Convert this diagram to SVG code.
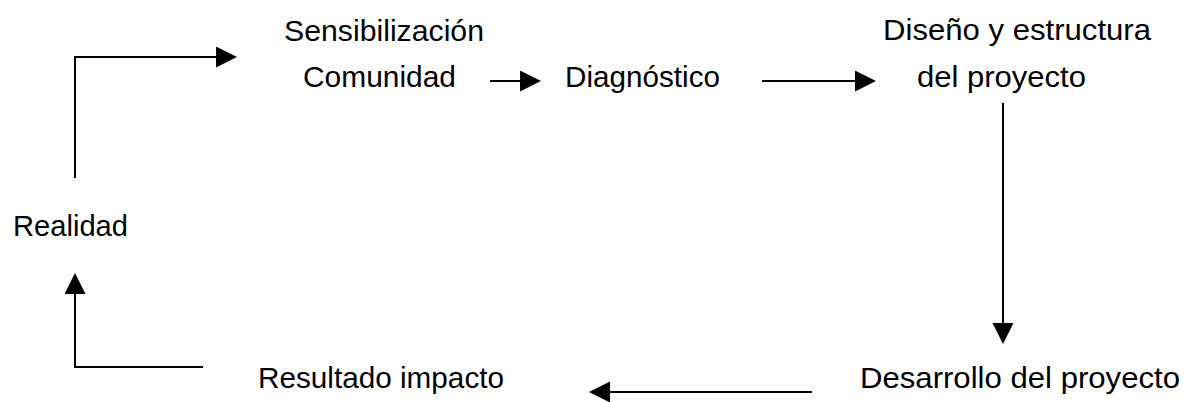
<svg xmlns="http://www.w3.org/2000/svg" width="1191" height="402" viewBox="0 0 1191 402">
  <style>
    .lbl { font-family: "Liberation Sans", Arial, sans-serif; font-size: 30px; fill: #000; }
    .conn { fill: none; stroke: #000; stroke-width: 2; }
  </style>
  <defs>
    <marker id="head" markerUnits="userSpaceOnUse" markerWidth="22" markerHeight="22" refX="0" refY="10.5" orient="auto">
      <polygon points="0,0 21,10.5 0,21" fill="#000"/>
    </marker>
  </defs>
  <rect width="1191" height="402" fill="#fff"/>
  <g id="connectors">
    <path class="conn" d="M75,178 V57 H216" marker-end="url(#head)"/>
    <path class="conn" d="M490,81 H520" marker-end="url(#head)"/>
    <path class="conn" d="M762,81 H855" marker-end="url(#head)"/>
    <path class="conn" d="M1003,103 V323" marker-end="url(#head)"/>
    <path class="conn" d="M812,392 H610" marker-end="url(#head)"/>
    <path class="conn" d="M203,367 H75 V294" marker-end="url(#head)"/>
  </g>
  <g id="node-sensibilizacion">
    <text class="lbl" x="284" y="41" textLength="200" lengthAdjust="spacingAndGlyphs">Sensibilización</text>
    <text class="lbl" x="303" y="87" textLength="153" lengthAdjust="spacingAndGlyphs">Comunidad</text>
  </g>
  <g id="node-diagnostico">
    <text class="lbl" x="565" y="87" textLength="155" lengthAdjust="spacingAndGlyphs">Diagnóstico</text>
  </g>
  <g id="node-diseno">
    <text class="lbl" x="883" y="40" textLength="268" lengthAdjust="spacingAndGlyphs">Diseño y estructura</text>
    <text class="lbl" x="917" y="87" textLength="169" lengthAdjust="spacingAndGlyphs">del proyecto</text>
  </g>
  <g id="node-desarrollo">
    <text class="lbl" x="860" y="388" textLength="320" lengthAdjust="spacingAndGlyphs">Desarrollo del proyecto</text>
  </g>
  <g id="node-resultado">
    <text class="lbl" x="258" y="388" textLength="246" lengthAdjust="spacingAndGlyphs">Resultado impacto</text>
  </g>
  <g id="node-realidad">
    <text class="lbl" x="13" y="236" textLength="115" lengthAdjust="spacingAndGlyphs">Realidad</text>
  </g>
</svg>
